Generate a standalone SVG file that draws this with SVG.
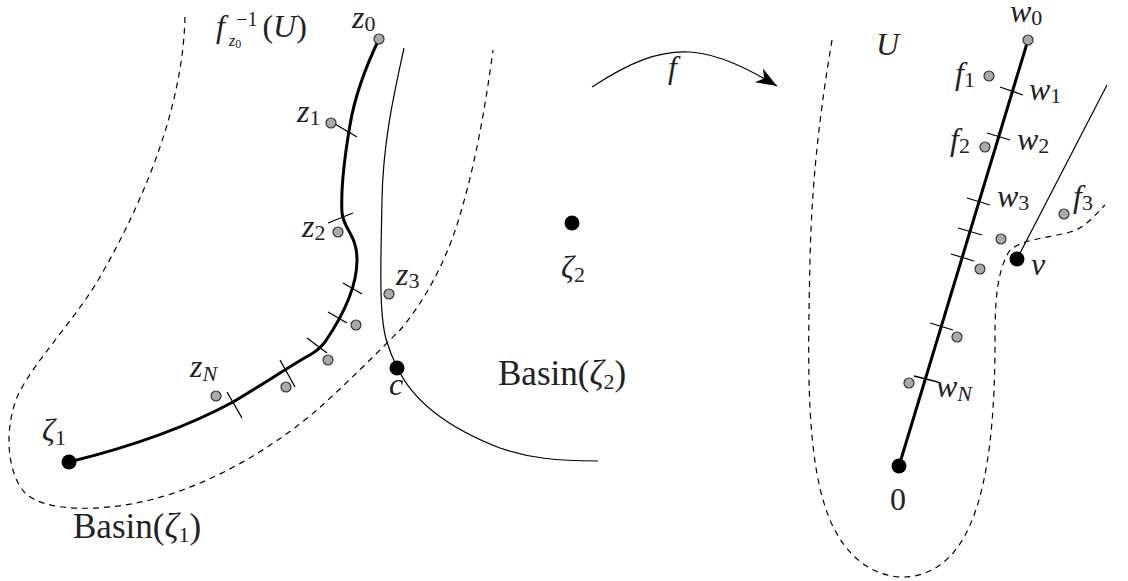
<svg xmlns="http://www.w3.org/2000/svg" width="1128" height="581" viewBox="0 0 1128 581">
<style>
.bold{fill:none;stroke:#000;stroke-width:3;stroke-linecap:round;stroke-linejoin:round}
.thin{fill:none;stroke:#000;stroke-width:1.2}
.dash{fill:none;stroke:#000;stroke-width:1.2;stroke-dasharray:6 5}
.tick{stroke:#000;stroke-width:1.3}
.gp{fill:#aaa;stroke:#333;stroke-width:1.2}
.bp{fill:#000}
text{font-family:"Liberation Serif","Times New Roman",serif;fill:#222;font-size:32px}
.it{font-style:italic}
.sub{font-size:22px;font-style:normal}
.subi{font-size:22px;font-style:italic}
.big{font-size:35px}
</style>
<defs>
<marker id="ah" markerUnits="userSpaceOnUse" markerWidth="26" markerHeight="20" viewBox="-22 -10 24 20" refX="0" refY="0" orient="auto">
<path d="M0,0 L-21,-8 L-15,0 L-21,8 Z" fill="#000"/>
</marker>
</defs>

<g id="regions">
<path class="dash" d="M185,17 C183,100 150,190 100,277 C75,320 35,360 18,395 C5,425 5,470 25,493 C45,512 100,512 150,500 C210,485 270,450 317,410 C345,385 375,355 400,330 C430,295 450,250 460,215 C475,165 485,110 493,50"/>
<path class="thin" d="M404,48 C395,90 383,140 382,200 C381,260 378,320 388,345 C392,358 395,362 397,367 C410,395 440,425 500,448 C530,458 555,461 598,461"/>
<path class="dash" d="M832,40 C822,100 812,170 810,260 C808,360 805,460 830,520 C845,555 870,575 900,577 C930,578 955,560 970,525 C990,480 995,410 995,340 C995,300 997,270 1010,250 C1025,238 1050,238 1070,232 C1085,228 1095,215 1105,205"/>
<path class="thin" d="M1107,85 L1017,259"/>
</g>

<g id="path-left">
<path class="bold" d="M379,39 C368,62 355,95 350,125 C344,160 341,195 342,213 C344,230 357,235 357,260 C357,290 340,320 325,342 C320,348 318,350 313,353 C290,366 265,383 233,402 C185,428 130,447 69,462"/>
<line class="tick" x1="335" y1="124" x2="357" y2="137"/>
<line class="tick" x1="328" y1="223" x2="353" y2="213"/>
<line class="tick" x1="343" y1="283" x2="362" y2="294"/>
<line class="tick" x1="328" y1="312" x2="347" y2="323"/>
<line class="tick" x1="307" y1="338" x2="327" y2="353"/>
<line class="tick" x1="280" y1="360" x2="295" y2="387"/>
<line class="tick" x1="227" y1="392" x2="242" y2="418"/>
</g>

<g id="path-right">
<line class="bold" x1="1028" y1="40" x2="899" y2="466"/>
<line class="tick" x1="1000" y1="87" x2="1023" y2="95"/>
<line class="tick" x1="987" y1="133" x2="1010" y2="140"/>
<line class="tick" x1="967" y1="198" x2="990" y2="205"/>
<line class="tick" x1="958" y1="228" x2="982" y2="235"/>
<line class="tick" x1="951" y1="254" x2="974" y2="261"/>
<line class="tick" x1="930" y1="323" x2="953" y2="330"/>
<line class="tick" x1="914" y1="376" x2="938" y2="382"/>
</g>

<g id="connectors">
<path class="thin" d="M592,87 C630,62 660,50 690,52 C720,54 750,70 777,86" marker-end="url(#ah)"/>
</g>

<g id="z0"><circle class="gp" cx="379" cy="39" r="5"/><text class="it" x="352" y="28">z<tspan class="sub" dy="3">0</tspan></text></g>
<g id="z1"><circle class="gp" cx="331" cy="123" r="5"/><text class="it" x="297" y="122">z<tspan class="sub" dy="3">1</tspan></text></g>
<g id="z2"><circle class="gp" cx="338" cy="232" r="5"/><text class="it" x="302" y="237">z<tspan class="sub" dy="3">2</tspan></text></g>
<g id="z3"><circle class="gp" cx="389" cy="294" r="5"/><text class="it" x="396" y="285">z<tspan class="sub" dy="3">3</tspan></text></g>
<g id="pt-a"><circle class="gp" cx="356" cy="325" r="5"/></g>
<g id="pt-b"><circle class="gp" cx="328" cy="360" r="5"/></g>
<g id="pt-c"><circle class="gp" cx="286" cy="387" r="5"/></g>
<g id="zN"><circle class="gp" cx="216" cy="396" r="5"/><text class="it" x="190" y="377">z<tspan class="subi" dy="4">N</tspan></text></g>
<g id="zeta1"><circle class="bp" cx="69" cy="462" r="7.5"/><text class="it" x="42" y="441">ζ<tspan class="sub" dy="4">1</tspan></text></g>
<g id="c"><circle class="bp" cx="397" cy="368" r="7.5"/><text class="it" x="389" y="395">c</text></g>
<g id="zeta2"><circle class="bp" cx="572" cy="223" r="7.5"/><text class="it" x="561" y="278">ζ<tspan class="sub" dy="4">2</tspan></text></g>
<g id="basin1"><text class="big" x="73" y="538">Basin(<tspan class="it">ζ</tspan><tspan class="sub" font-size="24" dy="4">1</tspan><tspan dy="-4">)</tspan></text></g>
<g id="basin2"><text class="big" x="498" y="385">Basin(<tspan class="it">ζ</tspan><tspan class="sub" font-size="24" dy="4">2</tspan><tspan dy="-4">)</tspan></text></g>
<g id="preimage"><text x="216" y="37"><tspan class="it">f</tspan><tspan font-size="16" font-style="italic" dx="4" dy="9">z</tspan><tspan font-size="12" dy="2">0</tspan><tspan font-size="20" dx="-5" dy="-22">−1</tspan><tspan dx="5" dy="11">(</tspan><tspan class="it">U</tspan>)</text></g>
<g id="flabel"><text class="it" x="668" y="78">f</text></g>

<g id="U"><text class="it" x="876" y="55">U</text></g>
<g id="w0"><circle class="gp" cx="1028" cy="40" r="5"/><text class="it" x="1010" y="22" font-size="30">w<tspan class="sub" dy="3">0</tspan></text></g>
<g id="f1"><circle class="gp" cx="989" cy="76" r="5"/><text class="it" x="955" y="84">f<tspan class="sub" dy="3">1</tspan></text></g>
<g id="w1"><text class="it" x="1029" y="100">w<tspan class="sub" dy="3">1</tspan></text></g>
<g id="f2"><circle class="gp" cx="985" cy="147" r="5"/><text class="it" x="950" y="150">f<tspan class="sub" dy="3">2</tspan></text></g>
<g id="w2"><text class="it" x="1017" y="150">w<tspan class="sub" dy="3">2</tspan></text></g>
<g id="w3"><text class="it" x="997" y="207">w<tspan class="sub" dy="3">3</tspan></text></g>
<g id="f3"><circle class="gp" cx="1064" cy="214" r="5"/><text class="it" x="1073" y="207">f<tspan class="sub" dy="3">3</tspan></text></g>
<g id="pt-d"><circle class="gp" cx="1001" cy="239" r="5"/></g>
<g id="pt-e"><circle class="gp" cx="980" cy="269" r="5"/></g>
<g id="v"><circle class="bp" cx="1017" cy="259" r="7.5"/><text class="it" x="1031" y="275">v</text></g>
<g id="pt-f"><circle class="gp" cx="957" cy="337" r="5"/></g>
<g id="wN"><circle class="gp" cx="909" cy="383" r="5"/><text class="it" x="936" y="397">w<tspan class="subi" dy="4">N</tspan></text></g>
<g id="origin"><circle class="bp" cx="899" cy="466" r="7.5"/><text x="890" y="510" font-size="34">0</text></g>
</svg>
